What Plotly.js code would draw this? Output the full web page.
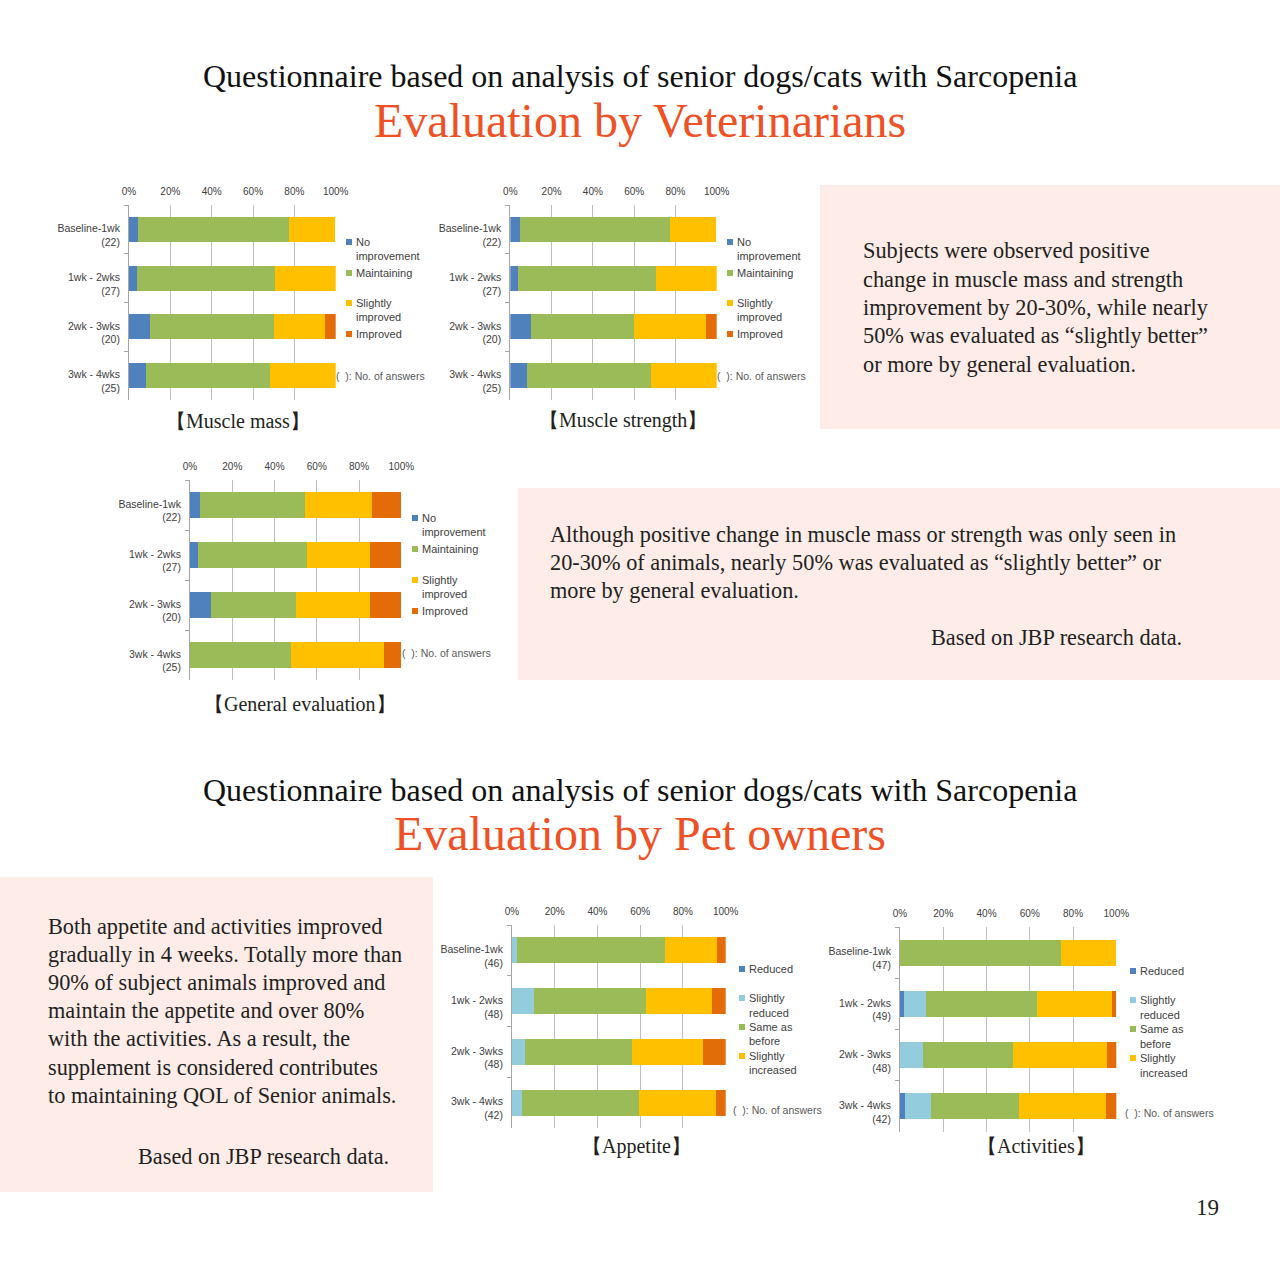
<!DOCTYPE html>
<html>
<head>
<meta charset="utf-8">
<script src="https://cdn.plot.ly/plotly-3.0.1.min.js"></script>
<style>html,body{margin:0;padding:0;background:#fff;}#chart{width:1280px;height:1280px;}</style>
</head>
<body>
<div id="chart"></div>
<script>
// ---------- DATA ----------
const periods = ['Baseline-1wk', '1wk - 2wks', '2wk - 3wks', '3wk - 4wks'];

// Veterinarian evaluation (percent of answers)
const vetAnswers = [22, 27, 20, 25];
const vetSeriesNames = ['No improvement', 'Maintaining', 'Slightly improved', 'Improved'];

const massNoImprovement = [4.5, 3.7, 10, 8];
const massMaintaining   = [72.7, 66.7, 60, 60];
const massSlightly      = [22.7, 29.6, 25, 32];
const massImproved      = [0, 0, 5, 0];

const strengthNoImprovement = [4.5, 3.7, 10, 8];
const strengthMaintaining   = [72.7, 66.7, 50, 60];
const strengthSlightly      = [22.7, 29.6, 35, 32];
const strengthImproved      = [0, 0, 5, 0];

const generalNoImprovement = [4.5, 3.7, 10, 0];
const generalMaintaining   = [50, 51.9, 40, 48];
const generalSlightly      = [31.8, 29.6, 35, 44];
const generalImproved      = [13.6, 14.8, 15, 8];

// Pet owner evaluation (percent of answers)
const appetiteAnswers = [46, 48, 48, 42];
const activityAnswers = [47, 49, 48, 42];
const ownerSeriesNames = ['Reduced', 'Slightly reduced', 'Same as before', 'Slightly increased', 'Increased'];

const appetiteReduced         = [0, 0, 0, 0];
const appetiteSlightlyReduced = [2.2, 10.4, 6.3, 4.8];
const appetiteSame            = [69.6, 52.1, 50, 54.8];
const appetiteSlightlyUp      = [23.9, 31.3, 33.3, 35.7];
const appetiteIncreased       = [4.3, 6.3, 10.4, 4.8];

const activityReduced         = [0, 2, 0, 2.4];
const activitySlightlyReduced = [0, 10.2, 10.4, 11.9];
const activitySame            = [74.5, 51, 41.7, 40.5];
const activitySlightlyUp      = [25.5, 34.7, 43.8, 40.5];
const activityIncreased       = [0, 2, 4.2, 4.8];

const xTickValues = [0, 20, 40, 60, 80, 100];
const xTickLabels = ['0%', '20%', '40%', '60%', '80%', '100%'];

// ---------- STYLE ----------
const C_BLUE = '#4f81bd', C_LBLUE = '#93cddd', C_GREEN = '#9bbb59', C_YELLOW = '#ffc000', C_ORANGE = '#e36c09';
const vetColors = [C_BLUE, C_GREEN, C_YELLOW, C_ORANGE];
const ownerColors = [C_BLUE, C_LBLUE, C_GREEN, C_YELLOW, C_ORANGE];
const SANS = 'Liberation Sans, Arial, sans-serif';
const SERIF = 'Liberation Serif, Times New Roman, serif';
const PINK = '#fdece8';
const TITLE_ORANGE = '#ee5125';
const BODY = '#231f20';

const X = px => px / 1280;
const Y = py => 1 - py / 1280;

function labels(n) { return periods.map((p, i) => p + '<br>(' + n[i] + ')'); }

const traces = [];
function addChart(axNum, seriesList, names, colors, answers) {
  const cats = labels(answers);
  seriesList.forEach((vals, k) => {
    traces.push({
      type: 'bar', orientation: 'h', x: vals, y: cats, name: names[k],
      marker: { color: colors[k], line: { width: 0 } },
      xaxis: 'x' + (axNum === 1 ? '' : axNum), yaxis: 'y' + (axNum === 1 ? '' : axNum),
      showlegend: false, hoverinfo: 'x+name'
    });
  });
}
addChart(1, [massNoImprovement, massMaintaining, massSlightly, massImproved], vetSeriesNames, vetColors, vetAnswers);
addChart(2, [strengthNoImprovement, strengthMaintaining, strengthSlightly, strengthImproved], vetSeriesNames, vetColors, vetAnswers);
addChart(3, [generalNoImprovement, generalMaintaining, generalSlightly, generalImproved], vetSeriesNames, vetColors, vetAnswers);
addChart(4, [appetiteReduced, appetiteSlightlyReduced, appetiteSame, appetiteSlightlyUp, appetiteIncreased], ownerSeriesNames, ownerColors, appetiteAnswers);
addChart(5, [activityReduced, activitySlightlyReduced, activitySame, activitySlightlyUp, activityIncreased], ownerSeriesNames, ownerColors, activityAnswers);

function xAxis(x0, x1, yAnchor) {
  return {
    domain: [X(x0), X(x1)], anchor: yAnchor, side: 'top', range: [0, 100],
    tickmode: 'array', tickvals: xTickValues, ticktext: xTickLabels,
    showgrid: true, gridcolor: '#bfbfbf', gridwidth: 1,
    zeroline: false, showline: false, ticks: '', fixedrange: true, ticklabelstandoff: 7,
    tickfont: { family: SANS, size: 10, color: '#404040' }
  };
}
function yAxis(y0, y1, xAnchor) {
  return {
    domain: [Y(y1), Y(y0)], anchor: xAnchor, autorange: 'reversed', type: 'category',
    showline: true, linecolor: '#a6a6a6', linewidth: 1, ticks: 'outside', tickson: 'boundaries',
    ticklen: 4, tickcolor: '#a6a6a6', showgrid: false, fixedrange: true, ticklabelstandoff: 6,
    ticklabelshift: -6,
    tickfont: { family: SANS, size: 10.5, color: '#404040' }
  };
}

const shapes = [
  { type: 'rect', xref: 'paper', yref: 'paper', x0: X(820), x1: X(1280), y0: Y(429), y1: Y(185), fillcolor: PINK, line: { width: 0 }, layer: 'below' },
  { type: 'rect', xref: 'paper', yref: 'paper', x0: X(518), x1: X(1280), y0: Y(680), y1: Y(488), fillcolor: PINK, line: { width: 0 }, layer: 'below' },
  { type: 'rect', xref: 'paper', yref: 'paper', x0: X(0), x1: X(433), y0: Y(1192), y1: Y(877), fillcolor: PINK, line: { width: 0 }, layer: 'below' }
];
const annotations = [];

function txt(text, x, y, opts) {
  opts = opts || {};
  annotations.push({
    xref: 'paper', yref: 'paper', x: X(x), y: Y(y), text: text, showarrow: false,
    xanchor: opts.xanchor || 'left', yanchor: 'middle', align: opts.align || 'left', borderpad: 0,
    font: { family: opts.family || SANS, size: opts.size || 11, color: opts.color || '#404040' }
  });
}
function square(x, y, color) {
  shapes.push({ type: 'rect', xref: 'paper', yref: 'paper', x0: X(x), x1: X(x + 6), y0: Y(y + 3), y1: Y(y - 3), fillcolor: color, line: { width: 0 } });
}

// legend for vet charts
function vetLegend(x, y, offs, noteX, noteY) {
  const rows = [['No', C_BLUE], ['improvement', null], ['Maintaining', C_GREEN], ['Slightly', C_YELLOW], ['improved', null], ['Improved', C_ORANGE]];
  rows.forEach((r, i) => {
    if (r[1]) square(x, y + offs[i], r[1]);
    txt(r[0], x + 9, y + offs[i]);
  });
  txt('(  ): No. of answers', noteX, noteY, { color: '#595959', size: 10.5 });
}
vetLegend(346, 242, [0, 14, 31, 61, 75, 92], 335, 376);
vetLegend(727, 242, [0, 14, 31, 61, 75, 92], 716, 376);
vetLegend(412, 518, [0, 14, 31, 62, 76, 93], 401, 653);

function ownerLegend(x, y, offs, noteX, noteY) {
  const rows = [['Reduced', C_BLUE], ['Slightly', C_LBLUE], ['reduced', null], ['Same as', C_GREEN], ['before', null], ['Slightly', C_YELLOW], ['increased', null]];
  rows.forEach((r, i) => {
    if (r[1]) square(x, y + offs[i], r[1]);
    txt(r[0], x + 9, y + offs[i]);
  });
  txt('(  ): No. of answers', noteX, noteY, { color: '#595959', size: 10.5 });
}
ownerLegend(739, 969, [0, 29, 44, 58, 72, 87, 101], 732, 1110);
ownerLegend(1130, 971, [0, 29, 44, 58, 73, 87, 102], 1124, 1113);

// chart captions
const capOpts = { xanchor: 'center', family: SERIF, size: 20, color: BODY };
txt('【Muscle mass】', 238, 421, capOpts);
txt('【Muscle strength】', 623, 421, capOpts);
txt('【General evaluation】', 300, 704, capOpts);
txt('【Appetite】', 636, 1146, capOpts);
txt('【Activities】', 1036, 1146, capOpts);

// headings
txt('Questionnaire based on analysis of senior dogs/cats with Sarcopenia', 640, 76, { xanchor: 'center', family: SERIF, size: 32, color: '#111111' });
txt('Evaluation by Veterinarians', 640, 120, { xanchor: 'center', family: SERIF, size: 48, color: TITLE_ORANGE });
txt('Questionnaire based on analysis of senior dogs/cats with Sarcopenia', 640, 790, { xanchor: 'center', family: SERIF, size: 32, color: '#111111' });
txt('Evaluation by Pet owners', 640, 833, { xanchor: 'center', family: SERIF, size: 48, color: TITLE_ORANGE });

// body texts
const bodyOpts = { family: SERIF, size: 22.3, color: BODY };
const box1Lines = ['Subjects were observed positive', 'change in muscle mass and strength', 'improvement by 20-30%, while nearly', '50% was evaluated as \u201cslightly better\u201d', 'or more by general evaluation.'];
box1Lines.forEach((l, i) => txt(l, 862, 251 + i * 28.3, bodyOpts));

const box2Lines = ['Although positive change in muscle mass or strength was only seen in', '20-30% of animals, nearly 50% was evaluated as \u201cslightly better\u201d or', 'more by general evaluation.'];
box2Lines.forEach((l, i) => txt(l, 549, 534 + i * 28, bodyOpts));
txt('Based on JBP research data.', 1183, 637, Object.assign({ xanchor: 'right' }, bodyOpts));

const box3Lines = ['Both appetite and activities improved', 'gradually in 4 weeks. Totally more than', '90% of subject animals improved and', 'maintain the appetite and over 80%', 'with the activities. As a result, the', 'supplement is considered contributes', 'to maintaining QOL of Senior animals.'];
box3Lines.forEach((l, i) => txt(l, 47, 926 + i * 28.2, bodyOpts));
txt('Based on JBP research data.', 390, 1156, Object.assign({ xanchor: 'right' }, bodyOpts));

txt('19', 1207, 1207, { xanchor: 'center', family: SERIF, size: 23, color: BODY });

const layout = {
  width: 1280, height: 1280, margin: { l: 0, r: 0, t: 0, b: 0 },
  paper_bgcolor: '#ffffff', plot_bgcolor: 'rgba(0,0,0,0)',
  barmode: 'stack', bargap: 0.49, showlegend: false,
  xaxis: xAxis(129, 335.7, 'y'), yaxis: yAxis(205, 400, 'x'),
  xaxis2: xAxis(510.3, 716.7, 'y2'), yaxis2: yAxis(205, 400, 'x2'),
  xaxis3: xAxis(190, 401.3, 'y3'), yaxis3: yAxis(480, 680, 'x3'),
  xaxis4: xAxis(512, 725.7, 'y4'), yaxis4: yAxis(925, 1128, 'x4'),
  xaxis5: xAxis(900, 1116.3, 'y5'), yaxis5: yAxis(927, 1132, 'x5'),
  shapes: shapes, annotations: annotations
};

Plotly.newPlot('chart', traces, layout, { displayModeBar: false, staticPlot: true });
</script>
</body>
</html>
